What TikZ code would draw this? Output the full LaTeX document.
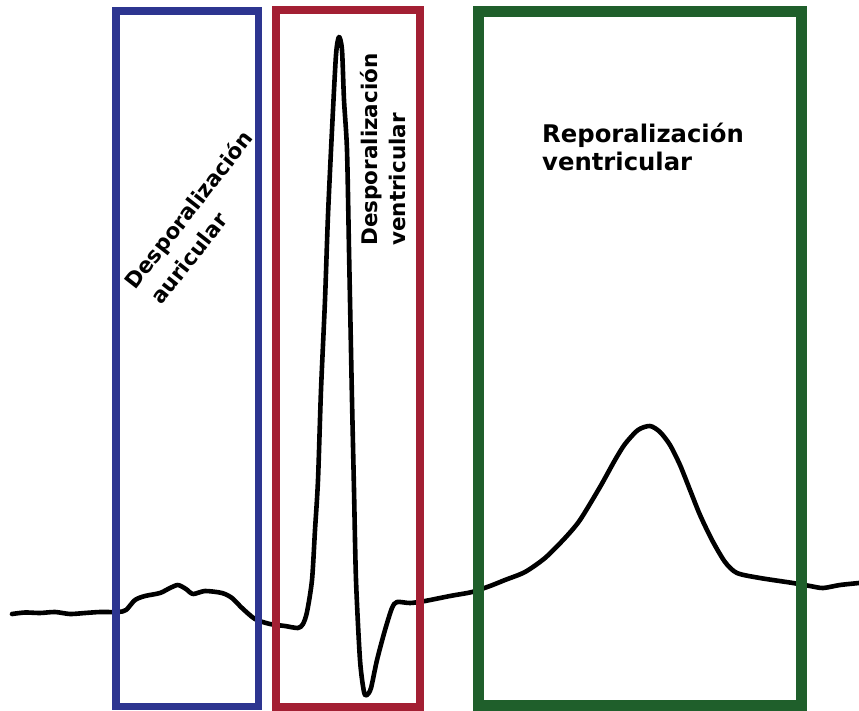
\documentclass[tikz,border=0pt]{standalone}
\usepackage{fontspec}
\setmainfont{DejaVu Sans}
\definecolor{boxblue}{HTML}{2D3590}
\definecolor{boxred}{HTML}{A31F33}
\definecolor{boxgreen}{HTML}{1F5F2B}
\begin{document}
\begin{tikzpicture}[x=1pt,y=-1pt,
  ecg/.style={line width=4.6pt,line join=round,line cap=round,black},
  frame/.style={line width=7.5pt},
  lbl/.style={font=\bfseries\fontsize{21.5}{28}\selectfont,align=left,inner sep=0pt,anchor=north west}]
\useasboundingbox (0,0) rectangle (859,711);
\draw[ecg] plot[smooth,tension=0.45] coordinates {
(12,614) (25,612.5) (40,613) (55,612) (70,614) (85,613) (100,612) (118,612) (126,610) (135,600) (145,596) (160,593) (170,588) (178,585) (186,589) (193,594) (205,591) (222,593) (232,598) (242,608) (255,619) (270,624) (285,626) (298,628) (303,624) (307,612) (312,580) (315,530) (318,480) (321,390) (325,300) (328,215) (332,130) (336,55) (339,37) (342,50) (344,100) (347,150) (349,250) (350.5,325) (352,400) (354,490) (356,580) (360,660) (364,692) (367,695) (371,688) (377,660) (385,630) (392,608) (397,602) (410,603) (425,601) (450,596) (472,592) (490,586) (505,580) (525,572) (545,558) (565,538) (580,520) (600,487) (615,460) (625,444) (638,430) (650,426) (660,432) (670,445) (680,465) (690,490) (700,515) (712,540) (725,562) (737,573) (760,578) (793,583) (810,586) (823,588) (840,585) (859,583)};
\draw[frame,boxblue] (116,11) rectangle (258.5,706.5);
\draw[frame,boxred] (276,10) rectangle (420,707);
\draw[frame,boxgreen,line width=11pt] (478,12) rectangle (801,705);
\node[lbl,rotate=52,font=\bfseries\fontsize{21.5}{30}\selectfont] (auri) at (122,280) {Desporalización\\\hspace*{4pt}auricular};
\node[lbl,rotate=90] (vent) at (360,246) {Desporalización\\ventricular};
\node[lbl,font=\bfseries\fontsize{24.3}{27.5}\selectfont] (repo) at (542,123) {Reporalización\\ventricular};
\end{tikzpicture}
\end{document}
